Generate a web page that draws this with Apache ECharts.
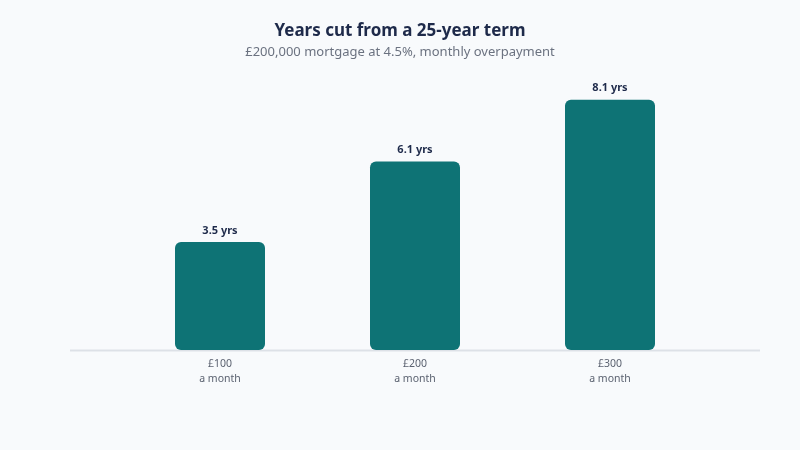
<!DOCTYPE html>
<html>
<head>
<meta charset="utf-8">
<script src="https://cdn.jsdelivr.net/npm/echarts@6/dist/echarts.min.js"></script>
<style>
html,body{margin:0;padding:0;background:#f8fafc;}
#c{width:800px;height:450px;}
</style>
</head>
<body>
<div id="c"></div>
<script>
const categories = ['£100\na month', '£200\na month', '£300\na month'];
const yearsCut = [3.5, 6.1, 8.1];
const titleText = 'Years cut from a 25-year term';
const subtitleText = '£200,000 mortgage at 4.5%, monthly overpayment';

const chart = echarts.init(document.getElementById('c'));
chart.setOption({
  backgroundColor: '#f8fafc',
  animation: false,
  textStyle: { fontFamily: 'Noto Sans' },
  title: {
    text: titleText,
    subtext: subtitleText,
    left: 'center',
    top: 18,
    itemGap: 6,
    textStyle: { fontFamily: 'Noto Sans', fontSize: 17, fontWeight: 'bold', color: '#1e2a4a' },
    subtextStyle: { fontFamily: 'Noto Sans', fontSize: 13, color: '#6b7280' }
  },
  grid: { left: 122.5, right: 92.5, top: 72, bottom: 100 },
  xAxis: {
    type: 'category',
    data: categories,
    axisLine: { show: false },
    axisTick: { show: false },
    axisLabel: { color: '#5b6270', fontSize: 10.5, lineHeight: 14.5, margin: 7, fontFamily: 'Noto Sans' }
  },
  yAxis: {
    type: 'value',
    min: 0,
    max: 9,
    show: false,
    splitLine: { show: false }
  },
  graphic: [{
    type: 'line',
    shape: { x1: 70, y1: 350.5, x2: 760, y2: 350.5 },
    style: { stroke: '#dde1e7', lineWidth: 2 },
    z: 0
  }],
  series: [{
    type: 'bar',
    data: yearsCut,
    barWidth: 90,
    itemStyle: { color: '#0e7375', borderRadius: 6 },
    label: {
      show: true,
      position: 'top',
      distance: 6,
      formatter: p => p.value + ' yrs',
      fontFamily: 'Noto Sans',
      fontSize: 11,
      fontWeight: 'bold',
      color: '#1e2a4a'
    },
    z: 2
  }]
});
</script>
</body>
</html>
